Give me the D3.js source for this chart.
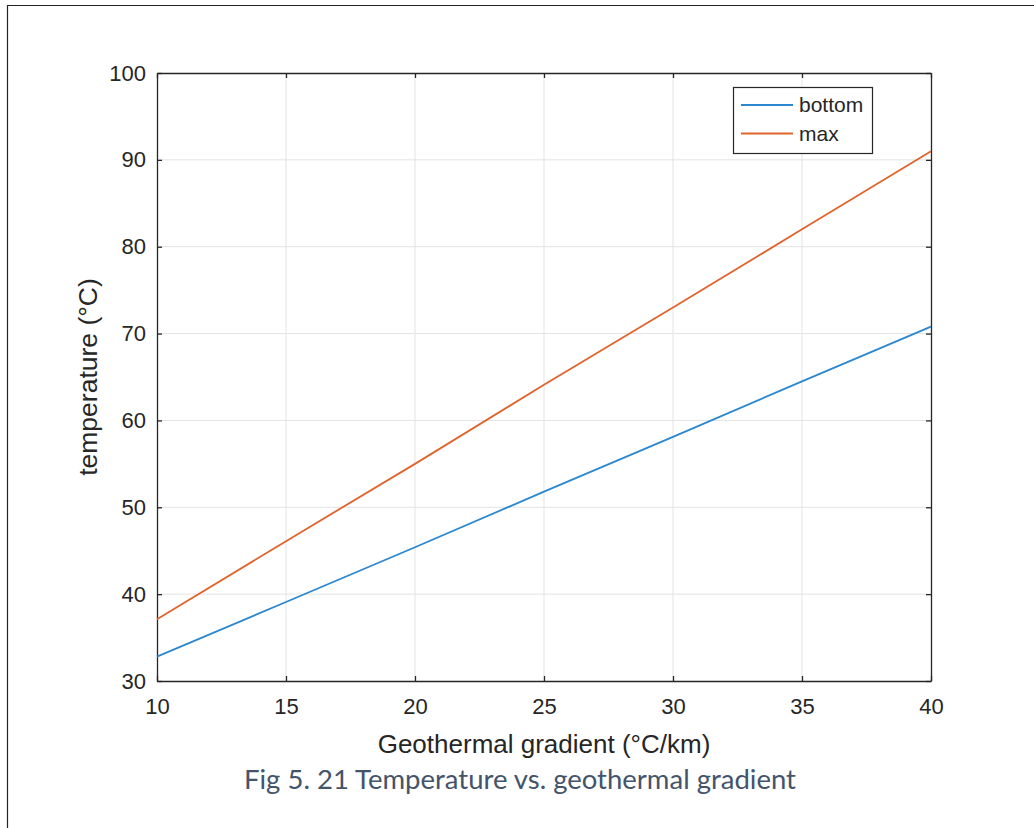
<!DOCTYPE html>
<html>
<head>
<meta charset="utf-8">
<script src="https://cdn.jsdelivr.net/npm/d3@7"></script>
<style>
  html, body { margin: 0; padding: 0; background: #fff; }
  svg { display: block; }
</style>
</head>
<body>
<script>
// Data
const gradient = [10, 15, 20, 25, 30, 35, 40];
const bottomTemp = [32.8, 39.1, 45.4, 51.8, 58.1, 64.5, 70.8];
const maxTemp = [37.1, 46.1, 55.0, 64.1, 73.0, 82.0, 91.0];
const xTicks = [10, 15, 20, 25, 30, 35, 40];
const yTicks = [30, 40, 50, 60, 70, 80, 90, 100];
const seriesNames = ["bottom", "max"];
const seriesColors = ["#2b87cf", "#e0642c"];

const W = 1034, H = 828;
const svg = d3.select("body").append("svg").attr("width", W).attr("height", H);

// outer frame (left and top edges)
svg.append("line").attr("x1", 7.5).attr("x2", 7.5).attr("y1", 5.5).attr("y2", H).attr("stroke", "#222").attr("stroke-width", 1.2);
svg.append("line").attr("x1", 7).attr("x2", W).attr("y1", 5.5).attr("y2", 5.5).attr("stroke", "#222").attr("stroke-width", 1.2);

const L = 157, R = 931, T = 73, B = 681;
const x = d3.scaleLinear().domain([10, 40]).range([L, R]);
const y = d3.scaleLinear().domain([30, 100]).range([B, T]);
const axisColor = "#262626";
const font = "'Liberation Sans', Arial, sans-serif";

// grid
const grid = svg.append("g");
grid.selectAll("line.gx").data(xTicks.slice(1, -1)).join("line")
  .attr("x1", d => x(d)).attr("x2", d => x(d)).attr("y1", T).attr("y2", B)
  .attr("stroke", "#e3e3e3").attr("stroke-width", 1);
grid.selectAll("line.gy").data(yTicks.slice(1, -1)).join("line")
  .attr("x1", L).attr("x2", R).attr("y1", d => y(d)).attr("y2", d => y(d))
  .attr("stroke", "#e3e3e3").attr("stroke-width", 1);

// axes
const xAxis = d3.axisBottom(x).tickValues(xTicks).tickSizeInner(-5).tickSizeOuter(0).tickPadding(17);
const yAxis = d3.axisLeft(y).tickValues(yTicks).tickSizeInner(-5).tickSizeOuter(0).tickPadding(11);
const gx = svg.append("g").attr("transform", `translate(0,${B})`).call(xAxis);
const gy = svg.append("g").attr("transform", `translate(${L},0)`).call(yAxis);
const xTop = d3.axisTop(x).tickValues(xTicks).tickSizeInner(-5).tickSizeOuter(0).tickFormat("");
const yRight = d3.axisRight(y).tickValues(yTicks).tickSizeInner(-5).tickSizeOuter(0).tickFormat("");
const gxt = svg.append("g").attr("transform", `translate(0,${T})`).call(xTop);
const gyr = svg.append("g").attr("transform", `translate(${R},0)`).call(yRight);
[gx, gy, gxt, gyr].forEach(g => {
  g.select(".domain").attr("stroke", axisColor).attr("stroke-width", 1.3);
  g.selectAll(".tick line").attr("stroke", axisColor).attr("stroke-width", 1.3);
  g.selectAll(".tick text").attr("fill", axisColor).attr("font-family", font).attr("font-size", 22);
});

// lines
const lineGen = d3.line().x(d => x(d[0])).y(d => y(d[1]));
[bottomTemp, maxTemp].forEach((vals, i) => {
  svg.append("path")
    .datum(gradient.map((g, j) => [g, vals[j]]))
    .attr("d", lineGen)
    .attr("fill", "none")
    .attr("stroke", seriesColors[i])
    .attr("stroke-width", 1.8);
});

// legend
const lg = svg.append("g");
lg.append("rect").attr("x", 733.5).attr("y", 87.5).attr("width", 139).attr("height", 66)
  .attr("fill", "#fff").attr("stroke", axisColor).attr("stroke-width", 1.2);
seriesNames.forEach((n, i) => {
  const yy = 105 + i * 28.5;
  lg.append("line").attr("x1", 741).attr("x2", 793).attr("y1", yy).attr("y2", yy)
    .attr("stroke", seriesColors[i]).attr("stroke-width", 1.8);
  lg.append("text").attr("x", 799).attr("y", yy).attr("dy", "0.35em")
    .attr("font-family", font).attr("font-size", 21).attr("fill", axisColor).text(n);
});

// axis labels
svg.append("text").attr("x", (L + R) / 2).attr("y", 744).attr("dy", "0.35em")
  .attr("text-anchor", "middle").attr("font-family", font).attr("font-size", 26)
  .attr("fill", axisColor).text("Geothermal gradient (°C/km)");
svg.append("text").attr("transform", `translate(88,${(T + B) / 2}) rotate(-90)`)
  .attr("dy", "0.35em").attr("text-anchor", "middle").attr("font-family", font).attr("font-size", 26.5)
  .attr("fill", axisColor).text("temperature (°C)");

// caption
svg.append("text").attr("x", 520).attr("y", 789)
  .attr("text-anchor", "middle").attr("font-family", "Lato, 'Open Sans', sans-serif").attr("font-size", 27.5)
  .attr("fill", "#44546a").text("Fig 5. 21 Temperature vs. geothermal gradient");
</script>
</body>
</html>
